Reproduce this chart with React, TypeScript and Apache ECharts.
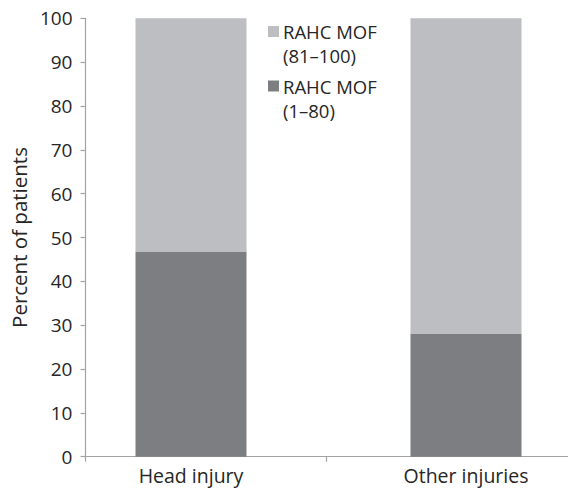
import React, { useEffect, useRef } from "react";
import * as echarts from "echarts";

const categories = ["Head injury", "Other injuries"];
const mofLow = [46.8, 28.0]; // RAHC MOF (1–80)
const mofHigh = [53.2, 72.0]; // RAHC MOF (81–100)
const seriesNames = ["RAHC MOF (81–100)", "RAHC MOF (1–80)"];
const legendLines = [
  ["RAHC MOF", "(81–100)"],
  ["RAHC MOF", "(1–80)"],
];
const yTicks = { min: 0, max: 100, interval: 10 };

const LIGHT = "#bdbec1";
const DARK = "#7d7e81";
const AXIS = "#a3a3a3";
const TEXT = "#262626";
const FONT = "Open Sans";

export default function App() {
  const ref = useRef<HTMLDivElement>(null);
  useEffect(() => {
    document.body.style.margin = "0";
    const chart = echarts.init(ref.current!, null, { renderer: "svg" });
    const top = 18.3;
    const height = 438.4;
    const legendText = (text: string, x: number, y: number) => ({
      type: "text",
      x,
      y,
      style: {
        text,
        fontSize: 18.5,
        lineHeight: 20,
        fontFamily: FONT,
        fill: TEXT,
        verticalAlign: "middle",
      },
    });
    chart.setOption({
      animation: false,
      backgroundColor: "#ffffff",
      textStyle: { fontFamily: FONT, color: TEXT },
      grid: [
        { left: 81, top, width: 487, height },
        { left: 191, top, width: 275, height },
      ],
      xAxis: [
        {
          type: "category",
          gridIndex: 0,
          data: ["", ""],
          boundaryGap: true,
          axisLine: { lineStyle: { color: AXIS, width: 1.2 } },
          axisTick: { show: true, length: 5, lineStyle: { color: AXIS, width: 1.2 } },
          axisLabel: { show: false },
        },
        {
          type: "category",
          gridIndex: 1,
          data: categories,
          boundaryGap: false,
          axisLine: { show: false },
          axisTick: { show: false },
          axisLabel: { fontSize: 19.5, color: TEXT, fontFamily: FONT, margin: 9 },
        },
      ],
      yAxis: [
        {
          type: "value",
          gridIndex: 0,
          min: yTicks.min,
          max: yTicks.max,
          interval: yTicks.interval,
          name: "Percent of patients",
          nameLocation: "middle",
          nameRotate: 90,
          nameGap: 45,
          nameTextStyle: { fontSize: 20.5, color: TEXT, fontFamily: FONT },
          axisLine: { show: true, lineStyle: { color: AXIS, width: 1.2 } },
          axisTick: { show: true, length: 5, lineStyle: { color: AXIS, width: 1.2 } },
          axisLabel: { fontSize: 19, color: TEXT, fontFamily: FONT, margin: 13 },
          splitLine: { show: false },
        },
        {
          type: "value",
          gridIndex: 1,
          min: yTicks.min,
          max: yTicks.max,
          interval: yTicks.interval,
          show: false,
          splitLine: { show: false },
        },
      ],
      series: [
        {
          name: seriesNames[1],
          type: "bar",
          stack: "total",
          xAxisIndex: 1,
          yAxisIndex: 1,
          barWidth: 111,
          clip: false,
          itemStyle: { color: DARK },
          data: mofLow,
        },
        {
          name: seriesNames[0],
          type: "bar",
          stack: "total",
          xAxisIndex: 1,
          yAxisIndex: 1,
          barWidth: 111,
          clip: false,
          itemStyle: { color: LIGHT },
          data: mofHigh,
        },
      ],
      graphic: [
        { type: "rect", shape: { x: 268, y: 26, width: 11, height: 11 }, style: { fill: LIGHT } },
        legendText(legendLines[0][0], 283, 31.5),
        legendText(legendLines[0][1], 283, 55.5),
        { type: "rect", shape: { x: 268, y: 80.5, width: 11, height: 11 }, style: { fill: DARK } },
        legendText(legendLines[1][0], 283, 86),
        legendText(legendLines[1][1], 283, 110),
      ],
    });
    return () => chart.dispose();
  }, []);
  return (
    <div
      ref={ref}
      style={{ position: "absolute", left: 0, top: 0, width: 568, height: 488 }}
    />
  );
}
